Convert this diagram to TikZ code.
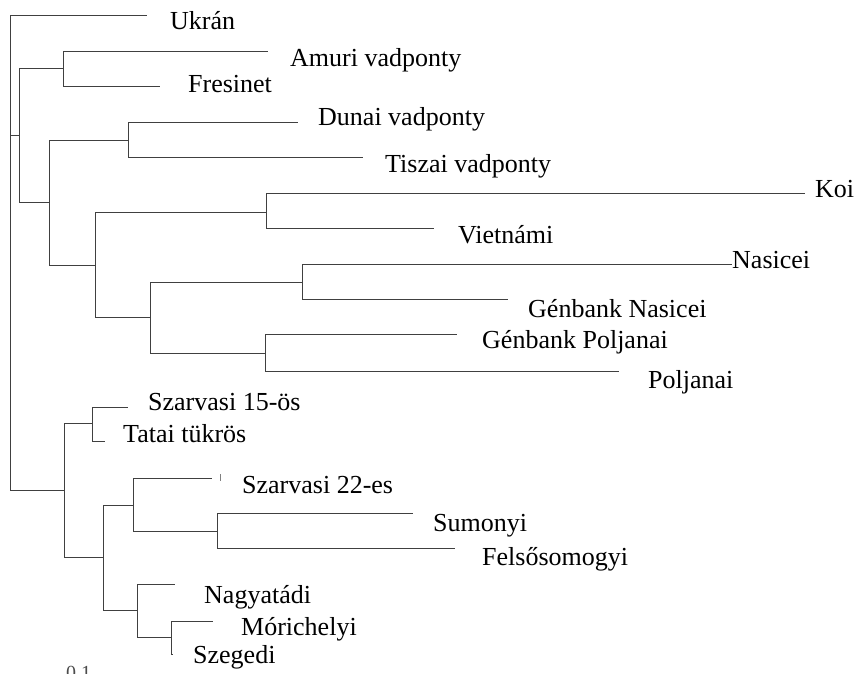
\documentclass[tikz,border=0pt]{standalone}
\usepackage{fontspec}
\setmainfont{Liberation Serif}
\usetikzlibrary{positioning}

\begin{document}
\begin{tikzpicture}[x=1pt,y=-1pt,font=\fontsize{26}{30}\selectfont,
    every node/.style={anchor=base west,inner sep=0pt},
    branch/.style={line width=0.9pt,black!75}]
  \useasboundingbox[fill=white] (0,0) rectangle (856,673);

  % inner nodes of the tree
  \coordinate (root) at (10,135);
  \coordinate (n1) at (19,135);
  \coordinate (n2) at (63,68);
  \coordinate (n3) at (49,202);
  \coordinate (n4) at (128,140);
  \coordinate (n5) at (95,265);
  \coordinate (n6) at (266,212);
  \coordinate (n7) at (150,317);
  \coordinate (n8) at (302,282);
  \coordinate (n9) at (265,353);
  \coordinate (m1) at (64,490);
  \coordinate (m2) at (92,423);
  \coordinate (m3) at (103,557);
  \coordinate (m4) at (133,505);
  \coordinate (m5) at (217,531);
  \coordinate (m6) at (137,610);
  \coordinate (m7) at (171,637);

  % ends of the leaves
  \coordinate (ukr) at (147,15);
  \coordinate (amu) at (268,51);
  \coordinate (fre) at (160,86);
  \coordinate (dun) at (298,122);
  \coordinate (tis) at (363,157);
  \coordinate (koi) at (805,193);
  \coordinate (vie) at (434,228);
  \coordinate (nas) at (732,264);
  \coordinate (gna) at (508,299);
  \coordinate (gpo) at (457,334);
  \coordinate (pol) at (619,371);
  \coordinate (sz15) at (128,407);
  \coordinate (tat) at (105,441);
  \coordinate (sz22) at (212,478);
  \coordinate (sum) at (413,513);
  \coordinate (fel) at (455,548);
  \coordinate (nag) at (175,584);
  \coordinate (mor) at (213,621);
  \coordinate (sze) at (173,654);

  \draw[branch] (root) |- (ukr) (root) |- (n1) (root) |- (m1)
    (n1) |- (n2) (n1) |- (n3)
    (n2) |- (amu) (n2) |- (fre)
    (n3) |- (n4) (n3) |- (n5)
    (n4) |- (dun) (n4) |- (tis)
    (n5) |- (n6) (n5) |- (n7)
    (n6) |- (koi) (n6) |- (vie)
    (n7) |- (n8) (n7) |- (n9)
    (n8) |- (nas) (n8) |- (gna)
    (n9) |- (gpo) (n9) |- (pol);
  \draw[branch] (m1) |- (m2) (m1) |- (m3)
    (m2) |- (sz15) (m2) |- (tat)
    (m3) |- (m4) (m3) |- (m6)
    (m4) |- (sz22) (m4) |- (m5)
    (m5) |- (sum) (m5) |- (fel)
    (m6) |- (nag) (m6) |- (m7)
    (m7) |- (mor) (m7) |- (sze);
  \draw[black!50,line width=0.6pt] (220,474) -- (220,481);

  % leaf labels
  \node (lukr) at (170,29) {Ukrán};
  \node (lamu) at (290,66) {Amuri vadponty};
  \node (lfre) at (188,92) {Fresinet};
  \node (ldun) at (318,125) {Dunai vadponty};
  \node (ltis) at (385,172) {Tiszai vadponty};
  \node (lkoi) at (815,197) {Koi};
  \node (lvie) at (458,243) {Vietnámi};
  \node (lnas) at (732,268) {Nasicei};
  \node (lgna) at (528,317) {Génbank Nasicei};
  \node (lgpo) at (482,348) {Génbank Poljanai};
  \node (lpol) at (648,388) {Poljanai};
  \node (lsz15) at (148,410) {Szarvasi 15-ös};
  \node (ltat) at (123,442) {Tatai tükrös};
  \node (lsz22) at (242,493) {Szarvasi 22-es};
  \node (lsum) at (433,531) {Sumonyi};
  \node (lfel) at (482,565) {Felsősomogyi};
  \node (lnag) at (204,603) {Nagyatádi};
  \node (lmor) at (241,635) {Mórichelyi};
  \node (lsze) at (193,663) {Szegedi};
  \node[anchor=north west,font=\fontsize{20}{24}\selectfont,black!70] (scale) at (66,666) {0.1};
\end{tikzpicture}
\end{document}
